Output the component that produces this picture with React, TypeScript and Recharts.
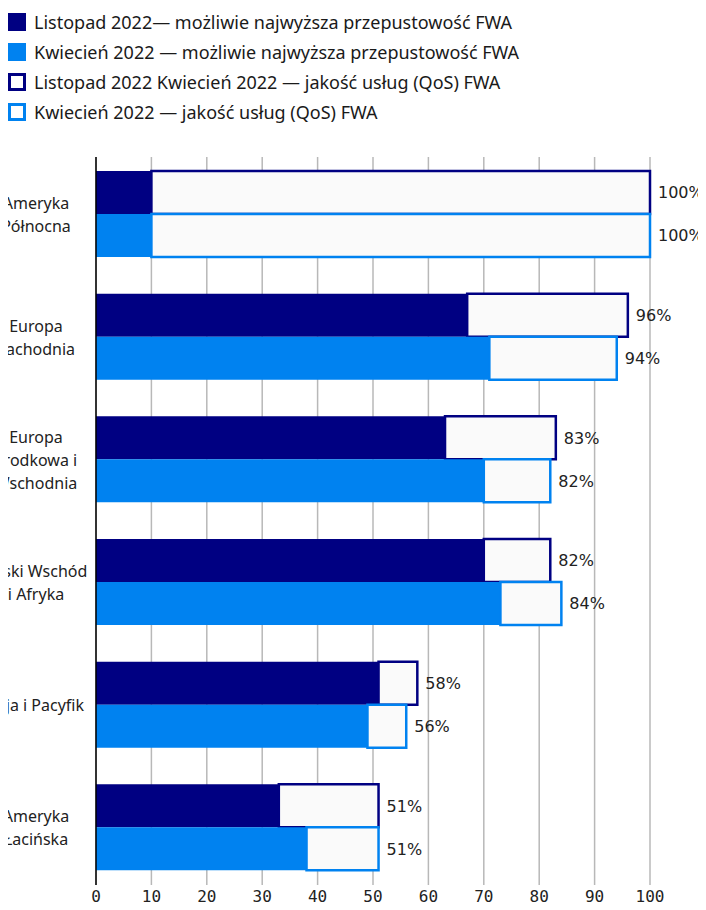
import React from 'react'
import { BarChart, Bar, XAxis, YAxis, CartesianGrid, LabelList } from 'recharts'

const categories = [
  'Ameryka\nPółnocna',
  'Europa\nZachodnia',
  'Europa\nŚrodkowa i\nWschodnia',
  'Bliski Wschód\ni Afryka',
  'Azja i Pacyfik',
  'Ameryka\nŁacińska'
]
const novMax = [10, 67, 63, 70, 51, 33]
const aprMax = [10, 71, 70, 73, 49, 38]
const novQos = [100, 96, 83, 82, 58, 51]
const aprQos = [100, 94, 82, 84, 56, 51]
const xTicks = [0, 10, 20, 30, 40, 50, 60, 70, 80, 90, 100]

const legendItems = [
  { label: 'Listopad 2022— możliwie najwyższa przepustowość FWA', color: '#000082', outline: false },
  { label: 'Kwiecień 2022 — możliwie najwyższa przepustowość FWA', color: '#0082f0', outline: false },
  { label: 'Listopad 2022 Kwiecień 2022 — jakość usług (QoS) FWA', color: '#000082', outline: true },
  { label: 'Kwiecień 2022 — jakość usług (QoS) FWA', color: '#0082f0', outline: true }
]

const NAVY = '#000082'
const BLUE = '#0082f0'
const REST = '#fafafa'

const data = categories.map((name, i) => ({
  name,
  novMax: novMax[i],
  novRest: novQos[i] - novMax[i],
  novQos: novQos[i],
  aprMax: aprMax[i],
  aprRest: aprQos[i] - aprMax[i],
  aprQos: aprQos[i]
}))

function CategoryTick(props: any) {
  const { x, y, payload } = props
  const lines = String(payload.value).split('\n')
  const lh = 23
  const start = y - ((lines.length - 1) * lh) / 2 + 6
  return (
    <text textAnchor="middle" fill="#222" fontSize={16} fontFamily="'Noto Sans', sans-serif">
      {lines.map((l, i) => (
        <tspan key={i} x={x - 60} y={start + i * lh}>
          {l}
        </tspan>
      ))}
    </text>
  )
}

// x axis numbers under the plot
function NumTick(props: any) {
  const { x, y, payload } = props
  return (
    <text x={x} y={y + 17} textAnchor="middle" fill="#222" fontSize={16} fontFamily="'DejaVu Sans Mono', monospace">
      {payload.value}
    </text>
  )
}

export default function App() {
  return (
    <div style={{ position: 'relative', margin: -8, width: 706, height: 910, overflow: 'hidden', background: '#fff' }}>
      {/* legend */}
      <div style={{ position: 'absolute', left: 8, top: 7 }}>
        {legendItems.map((it) => (
          <div key={it.label} style={{ display: 'flex', alignItems: 'center', height: 30 }}>
            <div
              style={{
                width: 18,
                height: 18,
                boxSizing: 'border-box',
                background: it.outline ? '#fff' : it.color,
                border: it.outline ? `3px solid ${it.color}` : 'none',
                marginRight: 8
              }}
            />
            <span style={{ fontFamily: "'Noto Sans', sans-serif", fontSize: 18, color: '#1a1a1a' }}>{it.label}</span>
          </div>
        ))}
      </div>

      <div style={{ position: 'absolute', left: -70, top: 140 }}>
        <BarChart
          width={776}
          height={770}
          data={data}
          layout="vertical"
          margin={{ top: 17, right: 56, bottom: 0, left: 0 }}
          barCategoryGap={18}
          barGap={0}
        >
          <CartesianGrid horizontal={false} stroke="#b8b8b8" strokeWidth={1.5} />
          <XAxis
            type="number"
            domain={[0, 100]}
            ticks={xTicks}
            axisLine={false}
            tickLine={false}
            tickSize={0}
            tickMargin={0}
            height={25}
            tick={<NumTick />}
          />
          <YAxis
            type="category"
            dataKey="name"
            width={166}
            padding={{ top: -4, bottom: -4 }}
            axisLine={{ stroke: '#000', strokeWidth: 1.5 }}
            tickLine={false}
            tickSize={0}
            tickMargin={0}
            tick={<CategoryTick />}
          />
          <Bar dataKey="novMax" stackId="nov" fill={NAVY} isAnimationActive={false} />
          <Bar dataKey="novRest" stackId="nov" fill={REST} stroke={NAVY} strokeWidth={2.5} isAnimationActive={false}>
            <LabelList
              dataKey="novQos"
              position="right"
              offset={8}
              formatter={(v: any) => `${v}%`}
              style={{ fill: '#222', fontSize: 16, fontFamily: "'DejaVu Sans', sans-serif" }}
            />
          </Bar>
          <Bar dataKey="aprMax" stackId="apr" fill={BLUE} isAnimationActive={false} />
          <Bar dataKey="aprRest" stackId="apr" fill={REST} stroke={BLUE} strokeWidth={2.5} isAnimationActive={false}>
            <LabelList
              dataKey="aprQos"
              position="right"
              offset={8}
              formatter={(v: any) => `${v}%`}
              style={{ fill: '#222', fontSize: 16, fontFamily: "'DejaVu Sans', sans-serif" }}
            />
          </Bar>
        </BarChart>
      </div>
    </div>
  )
}
